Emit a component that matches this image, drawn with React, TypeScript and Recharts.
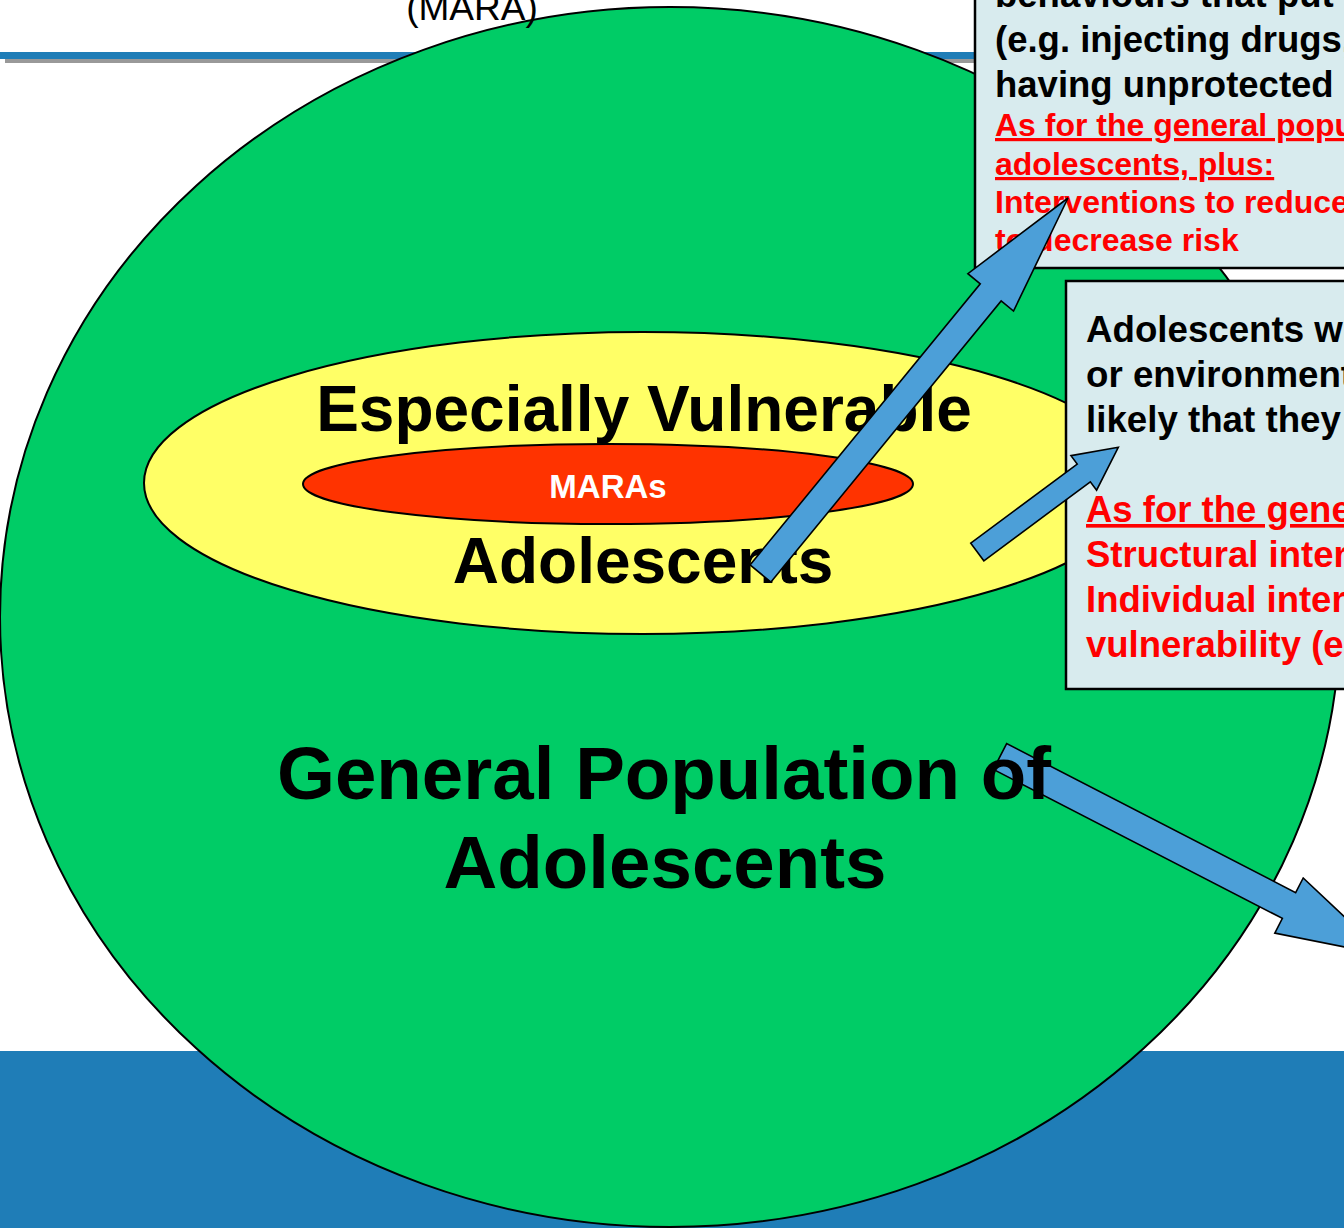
import React from "react";
import {
  ComposedChart,
  XAxis,
  YAxis,
  ReferenceArea,
  ReferenceLine,
  Scatter,
} from "recharts";

// ---------------- data (diagram units: 1 unit = 1 px of the slide) ----------------
const slideWidth = 1344;
const slideHeight = 1228;

const footerBands = [{ id: "footer", x1: 0, x2: 1344, y1: 1051, y2: 1228 }];
const headerRules = [{ id: "rule", x1: 0, x2: 1344, y1: 52, y2: 59 }];
const headerRuleShadows = [{ id: "ruleShadow", x1: 5, x2: 1344, y1: 56, y2: 63 }];

const populationEllipses = [
  { id: "general", cx: 670, cy: 617, rx: 670, ry: 610 },
  { id: "vulnerable", cx: 643, cy: 483, rx: 499, ry: 151 },
  { id: "maras", cx: 608, cy: 484, rx: 305, ry: 40 },
];

const infoBoxes = [
  { id: "maraBox", x1: 975, x2: 1420, y1: -100, y2: 268 },
  { id: "evaBox", x1: 1066, x2: 1420, y1: 281, y2: 689 },
];

const maraBoxLines = [
  { text: "Adolescents who engage in", kind: "body" },
  { text: "behaviours that put them at risk", kind: "body" },
  { text: "(e.g. injecting drugs,", kind: "body" },
  { text: "having unprotected sex)", kind: "body" },
  { text: "As for the general population of", kind: "heading" },
  { text: "adolescents, plus:", kind: "heading" },
  { text: "Interventions to reduce behaviours", kind: "action" },
  { text: "to decrease risk", kind: "action" },
];

const evaBoxLines = [
  { text: "Adolescents whose social, economic", kind: "body" },
  { text: "or environmental conditions make it", kind: "body" },
  { text: "likely that they will become MARA", kind: "body" },
  { text: "", kind: "body" },
  { text: "As for the general population, plus:", kind: "heading" },
  { text: "Structural interventions", kind: "action" },
  { text: "Individual interventions to reduce", kind: "action" },
  { text: "vulnerability (e.g. life skills)", kind: "action" },
];

const arrows = [
  { id: "toMara", x1: 760.5, y1: 573.5, x2: 1068, y2: 198 },
  { id: "toEva", x1: 977.3, y1: 552, x2: 1118.3, y2: 447.3 },
  { id: "toGeneral", x1: 1000, y1: 756.5, x2: 1385, y2: 955 },
];

const innerLabels = [
  { id: "evTop", text: "Especially Vulnerable", x: 644, y: 431 },
  { id: "marasLabel", text: "MARAs", x: 608, y: 498 },
  { id: "evBottom", text: "Adolescents", x: 643, y: 583 },
];

const outerLabels = [
  { id: "gpTop", text: "General Population of", x: 664, y: 799 },
  { id: "gpBottom", text: "Adolescents", x: 665, y: 888 },
];

const titleLabels = [{ id: "title", text: "(MARA)", x: 472, y: 20 }];

// ---------------- styles ----------------
const FONT = "'Liberation Sans', Arial, Helvetica, sans-serif";

const ellipseFills: Record<string, string> = {
  general: "#00CC66",
  vulnerable: "#FFFF66",
  maras: "#FF3300",
};

const labelStyles: Record<string, { size: number; fill: string; weight: number }> = {
  evTop: { size: 64, fill: "#000000", weight: 700 },
  marasLabel: { size: 33, fill: "#FFFFFF", weight: 700 },
  evBottom: { size: 64, fill: "#000000", weight: 700 },
  gpTop: { size: 74.5, fill: "#000000", weight: 700 },
  gpBottom: { size: 74.5, fill: "#000000", weight: 700 },
  title: { size: 37, fill: "#000000", weight: 400 },
};

const boxStyles: Record<
  string,
  {
    padLeft: number;
    padTop: number;
    kinds: Record<string, { size: number; lineHeight: number; fill: string; underline: boolean }>;
  }
> = {
  maraBox: {
    padLeft: 20,
    padTop: 62,
    kinds: {
      body: { size: 36.5, lineHeight: 45, fill: "#000000", underline: false },
      heading: { size: 32, lineHeight: 39, fill: "#FF0000", underline: true },
      action: { size: 32, lineHeight: 38, fill: "#FF0000", underline: false },
    },
  },
  evaBox: {
    padLeft: 20,
    padTop: 61,
    kinds: {
      body: { size: 36.7, lineHeight: 45, fill: "#000000", underline: false },
      heading: { size: 36.5, lineHeight: 45, fill: "#FF0000", underline: true },
      action: { size: 36.5, lineHeight: 45, fill: "#FF0000", underline: false },
    },
  },
};

const boxLines: Record<string, { text: string; kind: string }[]> = {
  maraBox: maraBoxLines,
  evaBox: evaBoxLines,
};

const arrowStyles: Record<string, { shaft: number; headWidth: number; headLength: number }> = {
  toMara: { shaft: 27, headWidth: 59, headLength: 122 },
  toEva: { shaft: 22, headWidth: 43, headLength: 43 },
  toGeneral: { shaft: 29, headWidth: 62, headLength: 108 },
};

const ARROW_FILL = "#4C9FD8";
const BAND_BLUE = "#1F7DB7";

// ---------------- shapes ----------------
const rectShape = (fill: string) => (p: any) => (
  <rect x={p.x} y={p.y} width={p.width} height={p.height} fill={fill} stroke="none" />
);

const ellipseShape = (fill: string) => (p: any) => (
  <ellipse
    cx={p.x + p.width / 2}
    cy={p.y + p.height / 2}
    rx={p.width / 2}
    ry={p.height / 2}
    fill={fill}
    stroke="#000000"
    strokeWidth={2}
  />
);

const boxShape = (id: string) => (p: any) => {
  const st = boxStyles[id];
  const lines = boxLines[id];
  let y = p.y + st.padTop;
  const texts: React.ReactNode[] = [];
  lines.forEach((ln, i) => {
    const k = st.kinds[ln.kind];
    if (i > 0) y += k.lineHeight;
    if (ln.text) {
      texts.push(
        <text
          key={i}
          x={p.x + st.padLeft}
          y={y}
          fontFamily={FONT}
          fontWeight={700}
          fontSize={k.size}
          fill={k.fill}
          style={
            k.underline
              ? {
                  textDecoration: "underline",
                  textDecorationThickness: "3px",
                  textUnderlineOffset: "3px",
                }
              : undefined
          }
        >
          {ln.text}
        </text>
      );
    }
  });
  return (
    <g>
      <rect
        x={p.x}
        y={p.y}
        width={p.width}
        height={p.height}
        fill="#D8EBEE"
        stroke="#000000"
        strokeWidth={2.5}
      />
      {texts}
    </g>
  );
};

const arrowShape = (id: string) => (p: any) => {
  const st = arrowStyles[id];
  const x1 = Number(p.x1);
  const y1 = Number(p.y1);
  const x2 = Number(p.x2);
  const y2 = Number(p.y2);
  const dx = x2 - x1;
  const dy = y2 - y1;
  const len = Math.hypot(dx, dy) || 1;
  const ux = dx / len;
  const uy = dy / len;
  const nx = -uy;
  const ny = ux;
  const bx = x2 - ux * st.headLength;
  const by = y2 - uy * st.headLength;
  const s = st.shaft / 2;
  const h = st.headWidth / 2;
  const pts = [
    [x1 + nx * s, y1 + ny * s],
    [bx + nx * s, by + ny * s],
    [bx + nx * h, by + ny * h],
    [x2, y2],
    [bx - nx * h, by - ny * h],
    [bx - nx * s, by - ny * s],
    [x1 - nx * s, y1 - ny * s],
  ];
  return (
    <polygon
      points={pts.map((q) => `${q[0]},${q[1]}`).join(" ")}
      fill={ARROW_FILL}
      stroke="#000000"
      strokeWidth={1.6}
      strokeLinejoin="miter"
    />
  );
};

const labelShape = (p: any) => {
  const d = p.payload;
  const st = labelStyles[d.id];
  return (
    <text
      x={p.cx}
      y={p.cy}
      textAnchor="middle"
      fontFamily={FONT}
      fontSize={st.size}
      fontWeight={st.weight}
      fill={st.fill}
    >
      {d.text}
    </text>
  );
};

export default function App() {
  let z = 10;
  const nextZ = () => (z += 10);
  return (
    <div
      style={{
        position: "absolute",
        left: 0,
        top: 0,
        width: slideWidth,
        height: slideHeight,
        overflow: "hidden",
        background: "#FFFFFF",
      }}
    >
      <ComposedChart
        width={slideWidth}
        height={slideHeight}
        margin={{ top: 0, right: 0, bottom: 0, left: 0 }}
      >
        <XAxis
          type="number"
          dataKey="x"
          domain={[0, slideWidth]}
          allowDataOverflow
          hide
        />
        <YAxis
          type="number"
          dataKey="y"
          domain={[0, slideHeight]}
          allowDataOverflow
          reversed
          hide
        />

        {footerBands.map((b) => (
          <ReferenceArea
            key={b.id}
            x1={b.x1}
            x2={b.x2}
            y1={b.y1}
            y2={b.y2}
            ifOverflow="visible"
            zIndex={nextZ()}
            shape={rectShape(BAND_BLUE)}
          />
        ))}
        {headerRuleShadows.map((b) => (
          <ReferenceArea
            key={b.id}
            x1={b.x1}
            x2={b.x2}
            y1={b.y1}
            y2={b.y2}
            ifOverflow="visible"
            zIndex={nextZ()}
            shape={rectShape("#999999")}
          />
        ))}
        {headerRules.map((b) => (
          <ReferenceArea
            key={b.id}
            x1={b.x1}
            x2={b.x2}
            y1={b.y1}
            y2={b.y2}
            ifOverflow="visible"
            zIndex={nextZ()}
            shape={rectShape(BAND_BLUE)}
          />
        ))}

        {populationEllipses.map((e) => (
          <ReferenceArea
            key={e.id}
            x1={e.cx - e.rx}
            x2={e.cx + e.rx}
            y1={e.cy - e.ry}
            y2={e.cy + e.ry}
            ifOverflow="visible"
            zIndex={nextZ()}
            shape={ellipseShape(ellipseFills[e.id])}
          />
        ))}

        <Scatter
          data={innerLabels}
          isAnimationActive={false}
          zIndex={nextZ()}
          shape={labelShape}
        />

        {infoBoxes.map((b) => (
          <ReferenceArea
            key={b.id}
            x1={b.x1}
            x2={b.x2}
            y1={b.y1}
            y2={b.y2}
            ifOverflow="visible"
            zIndex={nextZ()}
            shape={boxShape(b.id)}
          />
        ))}

        {arrows.map((a) => (
          <ReferenceLine
            key={a.id}
            segment={[
              { x: a.x1, y: a.y1 },
              { x: a.x2, y: a.y2 },
            ]}
            ifOverflow="visible"
            zIndex={nextZ()}
            shape={arrowShape(a.id)}
          />
        ))}

        <Scatter
          data={outerLabels}
          isAnimationActive={false}
          zIndex={nextZ()}
          shape={labelShape}
        />
        <Scatter
          data={titleLabels}
          isAnimationActive={false}
          zIndex={nextZ()}
          shape={labelShape}
        />
      </ComposedChart>
    </div>
  );
}
